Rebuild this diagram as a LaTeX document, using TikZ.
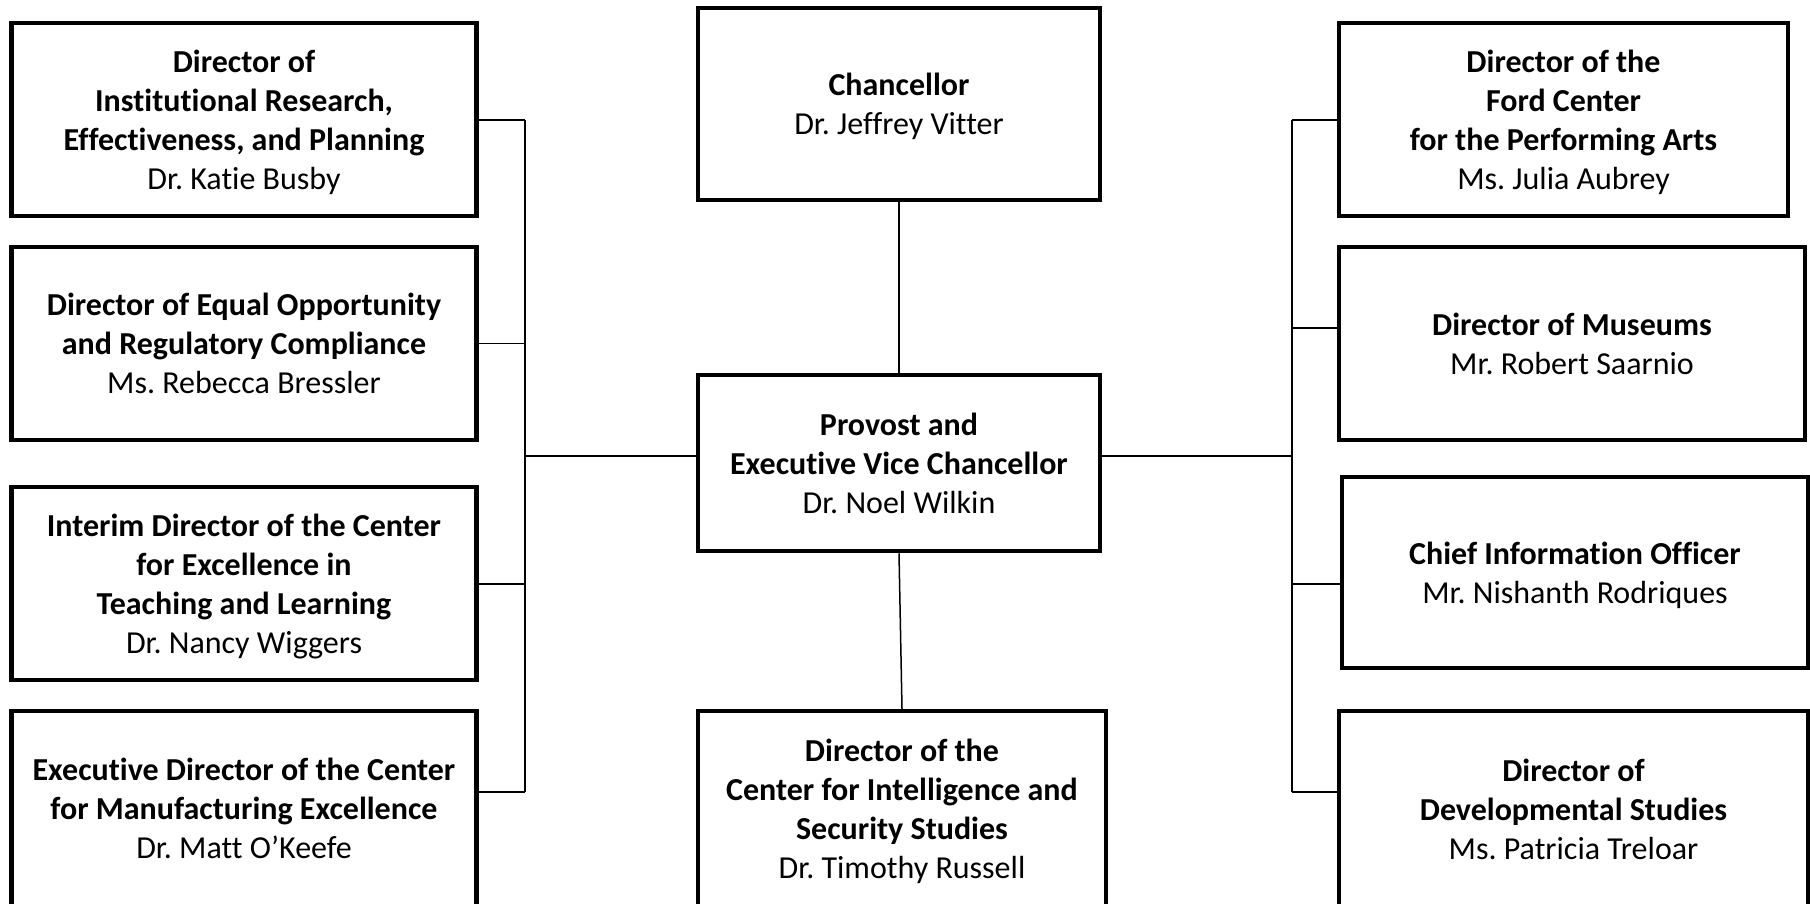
\documentclass[tikz,border=0pt]{standalone}
\usepackage{fontspec}
\setmainfont{Carlito}[Ligatures=NoCommon]
\frenchspacing
\newcommand\topstrutx{\rule{0pt}{30pt}}
\newcommand\botstrutx{\rule[-7.5pt]{0pt}{0pt}}
\begin{document}
\begin{tikzpicture}[x=1pt,y=-1pt,
  box/.style={draw=black, line width=4.5pt, inner sep=0pt, align=center, font=\fontsize{32}{39}\selectfont},
  conn/.style={draw=black, line width=1.5pt}]
\useasboundingbox[fill=white] (0,0) rectangle (1810,903);
% left column
\node[box, minimum width=465pt, minimum height=193pt] (L1) at (244,119.5)
  {\topstrutx\textbf{Director of}\\\textbf{Institutional Research,}\\\textbf{Effectiveness, and Planning}\\Dr. Katie Busby\botstrutx};
\node[box, minimum width=465pt, minimum height=193pt] (L2) at (244,343.5)
  {\topstrutx\textbf{Director of Equal Opportunity}\\\textbf{and Regulatory Compliance}\\Ms. Rebecca Bressler\botstrutx};
\node[box, minimum width=465pt, minimum height=193pt] (L3) at (244,583.5)
  {\topstrutx\textbf{Interim Director of the Center}\\\textbf{for Excellence in}\\\textbf{Teaching and Learning}\\Dr. Nancy Wiggers\botstrutx};
\node[box, minimum width=465pt, minimum height=195pt] (L4) at (244,808.5)
  {\topstrutx\textbf{Executive Director of the Center}\\\textbf{for Manufacturing Excellence}\\Dr. Matt O’Keefe\botstrutx};
% centre column
\node[box, minimum width=402pt, minimum height=192pt] (ch) at (899,104)
  {\topstrutx\textbf{Chancellor}\\Dr. Jeffrey Vitter\botstrutx};
\node[box, minimum width=402pt, minimum height=176pt] (pv) at (899,463)
  {\topstrutx\textbf{Provost and}\\\textbf{Executive Vice Chancellor}\\Dr. Noel Wilkin\botstrutx};
\node[box, minimum width=408pt, minimum height=196pt] (cs) at (902,809)
  {\topstrutx\textbf{Director of the}\\\textbf{Center for Intelligence and}\\\textbf{Security Studies}\\Dr. Timothy Russell\botstrutx};
% right column
\node[box, minimum width=449pt, minimum height=193pt] (R1) at (1563.5,119.5)
  {\topstrutx\textbf{Director of the}\\\textbf{Ford Center}\\\textbf{for the Performing Arts}\\Ms. Julia Aubrey\botstrutx};
\node[box, minimum width=466pt, minimum height=193pt] (R2) at (1572,343.5)
  {\topstrutx\textbf{Director of Museums}\\Mr. Robert Saarnio\botstrutx};
\node[box, minimum width=466pt, minimum height=191pt] (R3) at (1575,572.5)
  {\topstrutx\textbf{Chief Information Officer}\\Mr. Nishanth Rodriques\botstrutx};
\node[box, minimum width=469pt, minimum height=196pt] (R4) at (1573.5,809)
  {\topstrutx\textbf{Director of}\\\textbf{Developmental Studies}\\Ms. Patricia Treloar\botstrutx};
% bus coordinates
\coordinate (lt) at (525,120);
\coordinate (lb) at (525,792);
\coordinate (lm) at (525,456);
\coordinate (rt) at (1292,120);
\coordinate (rb) at (1292,792);
\coordinate (rm) at (1292,456);
% connectors
\draw[conn] (ch.south) -- (pv.north);
\draw[conn] (pv.south) -- (cs.north);
\draw[conn] (lt) -- (lb);
\draw[conn] (rt) -- (rb);
\draw[conn] (pv.west |- lm) -- (lm);
\draw[conn] (pv.east |- rm) -- (rm);
\draw[conn] (L1.east |- lt) -- (lt);
\draw[conn] (L2.east) -- (L2.east -| lt);
\draw[conn] (L3.east |- 0,584) -- (525,584);
\draw[conn] (L4.east |- lb) -- (lb);
\draw[conn] (R1.west |- rt) -- (rt);
\draw[conn] (R2.west |- 0,328) -- (1292,328);
\draw[conn] (R3.west |- 0,584) -- (1292,584);
\draw[conn] (R4.west |- rb) -- (rb);
\end{tikzpicture}
\end{document}
